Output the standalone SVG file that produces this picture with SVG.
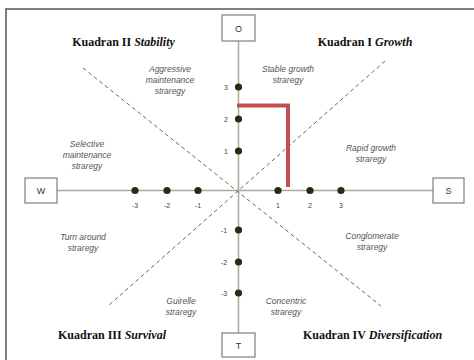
<svg xmlns="http://www.w3.org/2000/svg" width="474" height="360" viewBox="0 0 474 360">
  <style>
    .frame { fill: none; stroke: #555; stroke-width: 1.5; }
    .box { fill: #fff; stroke: #666; stroke-width: 1; }
    .boxlabel { font-family: "Liberation Sans", Arial, sans-serif; font-size: 9px; fill: #333; text-anchor: middle; }
    .axis { stroke: #aaa99a; stroke-width: 1.5; fill: none; }
    .diag { stroke: #666; stroke-width: 1; stroke-dasharray: 4 3; fill: none; }
    .mark { stroke: #c0504d; stroke-width: 4; fill: none; }
    .dot { fill: #2b2b12; }
    .num { font-family: "Liberation Sans", Arial, sans-serif; font-size: 7px; fill: #444; text-anchor: middle; }
    .title { font-family: "Liberation Serif", "Times New Roman", serif; font-size: 12px; font-weight: bold; fill: #111; text-anchor: middle; }
    .title tspan.it { font-style: italic; }
    .strat { font-family: "Liberation Sans", Arial, sans-serif; font-size: 8.5px; font-style: italic; fill: #555; text-anchor: middle; }
  </style>

  <rect class="frame" x="6" y="9" width="480" height="360"/>

  <g id="connectors">
    <line class="axis" x1="238.5" y1="41" x2="238.5" y2="333"/>
    <line class="axis" x1="57" y1="190.5" x2="433" y2="190.5"/>
    <line class="diag" x1="83" y1="68" x2="381" y2="306"/>
    <line class="diag" x1="385" y1="61" x2="108" y2="306"/>
    <path class="mark" d="M237 105.5 H288 V187"/>
  </g>

  <g id="node-O">
    <rect class="box" x="222" y="15" width="33" height="26"/>
    <text class="boxlabel" x="238.5" y="31.5">O</text>
  </g>
  <g id="node-T">
    <rect class="box" x="222" y="333" width="33" height="24"/>
    <text class="boxlabel" x="238.5" y="348.5">T</text>
  </g>
  <g id="node-W">
    <rect class="box" x="25" y="178" width="32" height="25"/>
    <text class="boxlabel" x="41" y="194">W</text>
  </g>
  <g id="node-S">
    <rect class="box" x="433" y="178" width="31" height="25"/>
    <text class="boxlabel" x="448.5" y="194">S</text>
  </g>

  <g id="scale-x">
    <circle class="dot" cx="135" cy="190.5" r="3.6"/>
    <circle class="dot" cx="167" cy="190.5" r="3.6"/>
    <circle class="dot" cx="198" cy="190.5" r="3.6"/>
    <circle class="dot" cx="278" cy="190.5" r="3.6"/>
    <circle class="dot" cx="310" cy="190.5" r="3.6"/>
    <circle class="dot" cx="341" cy="190.5" r="3.6"/>
    <text class="num" x="135" y="208">-3</text>
    <text class="num" x="167" y="208">-2</text>
    <text class="num" x="198" y="208">-1</text>
    <text class="num" x="278" y="208">1</text>
    <text class="num" x="310" y="208">2</text>
    <text class="num" x="341" y="208">3</text>
  </g>

  <g id="scale-y">
    <circle class="dot" cx="238.5" cy="87" r="3.6"/>
    <circle class="dot" cx="238.5" cy="119" r="3.6"/>
    <circle class="dot" cx="238.5" cy="151" r="3.6"/>
    <circle class="dot" cx="238.5" cy="230" r="3.6"/>
    <circle class="dot" cx="238.5" cy="262" r="3.6"/>
    <circle class="dot" cx="238.5" cy="293" r="3.6"/>
    <text class="num" x="226" y="89.5">3</text>
    <text class="num" x="226" y="121.5">2</text>
    <text class="num" x="226" y="153.5">1</text>
    <text class="num" x="224" y="232.5">-1</text>
    <text class="num" x="224" y="264.5">-2</text>
    <text class="num" x="224" y="295.5">-3</text>
  </g>

  <g id="quadrant-titles">
    <text class="title" x="123.5" y="46">Kuadran II <tspan class="it">Stability</tspan></text>
    <text class="title" x="365" y="46">Kuadran I <tspan class="it">Growth</tspan></text>
    <text class="title" x="112" y="339">Kuadran III <tspan class="it">Survival</tspan></text>
    <text class="title" x="372.5" y="339">Kuadran IV <tspan class="it">Diversification</tspan></text>
  </g>

  <g id="strategies">
    <text class="strat" x="170" y="72">Aggressive</text>
    <text class="strat" x="170" y="83">maintenance</text>
    <text class="strat" x="170" y="94">straregy</text>

    <text class="strat" x="288" y="72">Stable growth</text>
    <text class="strat" x="288" y="83">straregy</text>

    <text class="strat" x="87" y="147">Selective</text>
    <text class="strat" x="87" y="158">maintenance</text>
    <text class="strat" x="87" y="169">straregy</text>

    <text class="strat" x="371" y="151">Rapid growth</text>
    <text class="strat" x="371" y="162">straregy</text>

    <text class="strat" x="83" y="240">Turn around</text>
    <text class="strat" x="83" y="251">straregy</text>

    <text class="strat" x="372" y="239">Conglomerate</text>
    <text class="strat" x="372" y="250">straregy</text>

    <text class="strat" x="181" y="304">Guirelle</text>
    <text class="strat" x="181" y="315">straregy</text>

    <text class="strat" x="286" y="304">Concentric</text>
    <text class="strat" x="286" y="315">straregy</text>
  </g>
</svg>
